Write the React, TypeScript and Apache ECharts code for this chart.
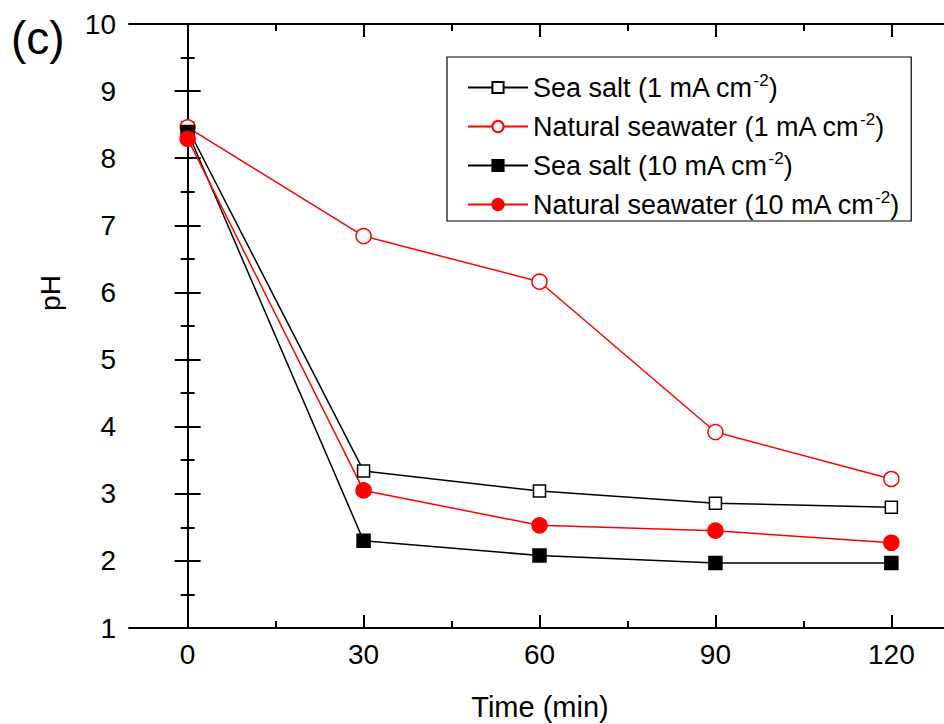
import React, { useEffect, useRef } from "react";
import * as echarts from "echarts";

// Sampling times (min)
const times = [0, 30, 60, 90, 120];

// pH readings for each electrolyte / current density
const seaSalt1 = [8.45, 3.34, 3.04, 2.86, 2.8];
const naturalSeawater1 = [8.46, 6.84, 6.16, 3.92, 3.22];
const seaSalt10 = [8.39, 2.3, 2.08, 1.97, 1.97];
const naturalSeawater10 = [8.29, 3.05, 2.53, 2.45, 2.27];

const seriesNames = [
  "Sea salt (1 mA cm-2)",
  "Natural seawater (1 mA cm-2)",
  "Sea salt (10 mA cm-2)",
  "Natural seawater (10 mA cm-2)",
];

const xMajorTicks = [0, 30, 60, 90, 120];
const xMinorTicks = [15, 45, 75, 105];

const FONT = 'Arial, "Liberation Sans", Helvetica, sans-serif';
const BLACK = "#000000";
const RED = "#ff0000";

const pairs = (ys: number[]) => times.map((t, i) => [t, ys[i]]);

export default function App() {
  const ref = useRef<HTMLDivElement>(null);

  useEffect(() => {
    if (!ref.current) return;
    const chart = echarts.init(ref.current, null, { renderer: "svg" });

    const axisLine = { show: true, lineStyle: { color: BLACK, width: 2 } };

    const majorX = (position: "top" | "bottom", labels: boolean) => ({
      type: "value",
      position,
      min: -10,
      max: 130,
      axisLine,
      axisTick: {
        show: true,
        inside: true,
        length: 13,
        lineStyle: { color: BLACK, width: 2 },
        customValues: xMajorTicks,
      },
      axisLabel: {
        show: labels,
        customValues: xMajorTicks,
        fontSize: 28,
        fontFamily: FONT,
        color: BLACK,
        margin: 12,
      },
      splitLine: { show: false },
    });

    const minorX = (position: "top" | "bottom") => ({
      type: "value",
      position,
      min: -10,
      max: 130,
      axisLine: { show: false },
      axisTick: {
        show: true,
        inside: true,
        length: 7,
        lineStyle: { color: BLACK, width: 2 },
        customValues: xMinorTicks,
      },
      axisLabel: { show: false },
      splitLine: { show: false },
    });

    const yAxis = (position: "left" | "right", labels: boolean) => ({
      type: "value",
      position,
      min: 1,
      max: 10,
      interval: 1,
      axisLine,
      axisTick: {
        show: true,
        inside: true,
        length: 13,
        lineStyle: { color: BLACK, width: 2 },
      },
      minorTick: {
        show: true,
        splitNumber: 2,
        length: 7,
        lineStyle: { color: BLACK, width: 2 },
      },
      axisLabel: {
        show: labels,
        fontSize: 28,
        fontFamily: FONT,
        color: BLACK,
        margin: 13,
      },
      splitLine: { show: false },
      minorSplitLine: { show: false },
    });

    const makeSeries = (
      name: string,
      ys: number[],
      color: string,
      symbol: string,
      size: number,
      filled: boolean
    ) => ({
      name,
      type: "line",
      xAxisIndex: 0,
      yAxisIndex: 0,
      data: pairs(ys),
      symbol,
      symbolSize: size,
      showAllSymbol: true,
      lineStyle: { color, width: 1.5 },
      itemStyle: {
        color: filled ? color : "#ffffff",
        borderColor: color,
        borderWidth: 1.5,
      },
      emphasis: { disabled: true },
    });

    chart.setOption({
      animation: false,
      backgroundColor: "#ffffff",
      grid: { left: 129, top: 24, right: 10, bottom: 96, containLabel: false },
      xAxis: [majorX("bottom", true), minorX("bottom"), majorX("top", false), minorX("top")],
      yAxis: [yAxis("left", true), yAxis("right", false)],
      legend: {
        left: 447,
        top: 57,
        orient: "vertical",
        padding: [15, 12, 3, 20],
        itemGap: 10,
        itemWidth: 60,
        itemHeight: 14,
        itemTextGap: 9,
        borderColor: BLACK,
        borderWidth: 1.2,
        selectedMode: false,
        data: seriesNames,
        formatter: (name: string) =>
          "{t|" + name.replace("cm-2)", "cm}{sup|-2}{t|)}"),
        textStyle: {
          color: BLACK,
          fontFamily: FONT,
          fontSize: 27,
          rich: {
            t: { fontSize: 27, fontFamily: FONT, color: BLACK, lineHeight: 30 },
            sup: {
              fontSize: 17,
              fontFamily: FONT,
              color: BLACK,
              padding: [0, 0, 14, 0],
            },
          },
        },
      },
      graphic: [
        {
          type: "text",
          left: 11,
          top: 15,
          style: { text: "(c)", fontSize: 46, fontFamily: FONT, fill: BLACK },
        },
        {
          type: "text",
          x: 50,
          y: 293,
          rotation: Math.PI / 2,
          style: {
            text: "pH",
            fontSize: 28,
            fontFamily: FONT,
            fill: BLACK,
            align: "center",
            verticalAlign: "middle",
          },
        },
        {
          type: "text",
          x: 540,
          y: 707,
          style: {
            text: "Time (min)",
            fontSize: 29,
            fontFamily: FONT,
            fill: BLACK,
            align: "center",
            verticalAlign: "middle",
          },
        },
      ],
      series: [
        makeSeries(seriesNames[0], seaSalt1, BLACK, "rect", 12, false),
        makeSeries(seriesNames[1], naturalSeawater1, RED, "circle", 15, false),
        makeSeries(seriesNames[2], seaSalt10, BLACK, "rect", 13, true),
        makeSeries(seriesNames[3], naturalSeawater10, RED, "circle", 15, true),
      ],
    });

    return () => chart.dispose();
  }, []);

  return (
    <div
      ref={ref}
      style={{ position: "fixed", left: 0, top: 0, width: 960, height: 724 }}
    />
  );
}
